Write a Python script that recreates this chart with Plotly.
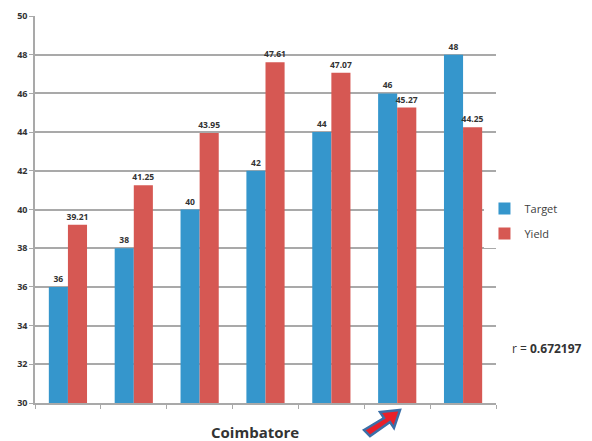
import plotly.graph_objects as go

# Seven plots at Coimbatore, target vs. achieved yield
categories = ["1", "2", "3", "4", "5", "6", "7"]
target = [36, 38, 40, 42, 44, 46, 48]
yield_vals = [39.21, 41.25, 43.95, 47.61, 47.07, 45.27, 44.25]
y_ticks = [30, 32, 34, 36, 38, 40, 42, 44, 46, 48, 50]
r_value = "0.672197"

BLUE = "#3596CC"
RED = "#D65853"
GRID = "#a9a9a9"

def fmt(v):
    return f"{v:g}"

label_font = dict(family="Open Sans", size=8.5, color="#333333", weight="bold")

fig = go.Figure()
fig.add_trace(go.Bar(
    x=categories, y=target, name="Target", legendgroup="t",
    marker=dict(color=BLUE, line=dict(width=0)),
    text=[fmt(v) for v in target], textposition="outside", cliponaxis=False,
    constraintext="none", textfont=label_font,
))
fig.add_trace(go.Bar(
    x=categories, y=yield_vals, name="Yield", legendgroup="y",
    marker=dict(color=RED, line=dict(width=0)),
    text=[fmt(v) for v in yield_vals], textposition="outside", cliponaxis=False,
    constraintext="none", textfont=label_font,
))

fig.update_layout(
    width=592, height=441,
    margin=dict(l=35, r=96, t=16, b=38),
    paper_bgcolor="white", plot_bgcolor="white",
    barmode="group", bargap=0.42, bargroupgap=0,
    font=dict(family="Open Sans", color="#333333"),
    legend=dict(
        x=0.975, y=0.47, xanchor="left", yanchor="middle",
        font=dict(size=11, color="#404040"),
        itemwidth=30, tracegroupgap=6,
    ),
    xaxis=dict(
        type="category", tickson="boundaries", ticks="outside", ticklen=4,
        tickcolor=GRID, showticklabels=False, showline=True,
        linecolor=GRID, linewidth=2, showgrid=False, automargin=False,
    ),
    yaxis=dict(
        range=[30, 50], tickvals=y_ticks, ticks="outside", ticklen=4,
        tickcolor=GRID, showline=True, linecolor=GRID, linewidth=1.5,
        gridcolor=GRID, gridwidth=1.5, automargin=False,
        tickfont=dict(size=9, color="#333333", weight="bold"),
    ),
)

# x-axis caption
fig.add_annotation(
    xref="paper", yref="paper", x=(255 - 35) / 461, y=(403 - 432) / 387,
    xanchor="center", yanchor="middle", showarrow=False,
    text="<b>Coimbatore</b>", font=dict(size=15, color="#333333"),
)

# correlation note beside the legend
fig.add_annotation(
    xref="paper", yref="paper", x=1.03, y=(403 - 348) / 387,
    xanchor="left", yanchor="middle", showarrow=False,
    text=f"r = <b>{r_value}</b>", font=dict(size=12, color="#333333"),
)

# block arrow pointing at the sixth group
def px(x, y):
    return (x - 35) / 461, (403 - y) / 387

pts = [(364, 430), (384, 418), (380, 412), (400, 410), (394, 428), (390, 422), (370, 436)]
path = "M " + " L ".join(f"{px(x, y)[0]:.4f},{px(x, y)[1]:.4f}" for x, y in pts) + " Z"
fig.add_shape(type="path", xref="paper", yref="paper", path=path,
              fillcolor="#E8202A", line=dict(color="#3A6FA8", width=2.5))

fig.write_html("out.html")
